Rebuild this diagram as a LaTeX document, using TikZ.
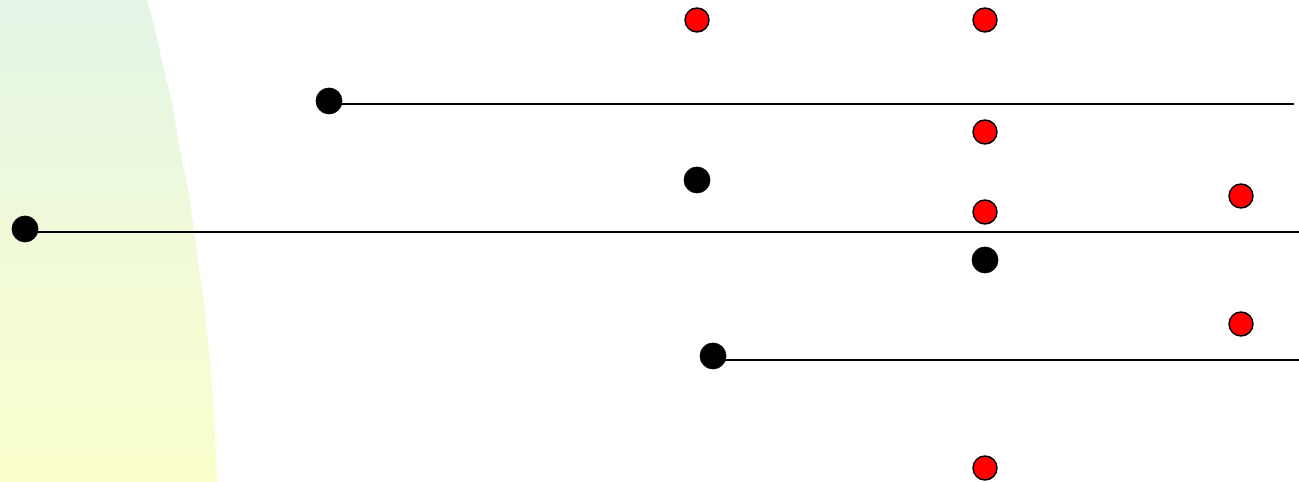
\documentclass[tikz,border=0pt]{standalone}
\usepackage{tikz}
\tikzset{blackdot/.style={draw, circle, fill=black, inner sep=0pt, minimum size=5.2mm},
  reddot/.style={draw, circle, fill=red, line width=0.8pt, inner sep=0pt, minimum size=4.8mm},
  ray/.style={line width=1pt}}
\definecolor{topmint}{RGB}{228,245,230}
\definecolor{botyellow}{RGB}{251,255,204}

\begin{document}
\begin{tikzpicture}[x=0.02cm, y=-0.02cm]
            \useasboundingbox (0,0) rectangle (1299,482);
            \shade[top color=topmint, bottom color=botyellow]
              (0,0) -- (147,0) -- (155,30) -- (164,70) -- (172,103) -- (180,150) -- (190,200)
              -- (198,262) -- (203,295) -- (208,340) -- (212,385) -- (215,430) -- (217,482)
              -- (0,482) -- cycle;

            \node[blackdot] (b1) at (329,101) {};
            \node[blackdot] (b2) at (25,229) {};
            \node[blackdot] (b3) at (713,356) {};
            \node[blackdot] (b4) at (697,180) {};
            \node[blackdot] (b5) at (985,260) {};

            \node[reddot] (r1) at (697,20) {};
            \node[reddot] (r2) at (985,20) {};
            \node[reddot] (r3) at (985,132) {};
            \node[reddot] (r4) at (985,212) {};
            \node[reddot] (r5) at (1241,196) {};
            \node[reddot] (r6) at (1241,324) {};
            \node[reddot] (r7) at (985,468) {};

            \coordinate (e1) at (1294,104);
            \coordinate (e2) at (1299,232);
            \coordinate (e3) at (1299,360);

            \draw[ray] (b1.center |- e1) -- (e1);
            \draw[ray] (b2.center |- e2) -- (e2);
            \draw[ray] (b3.center |- e3) -- (e3);
        \end{tikzpicture}
\end{document}
